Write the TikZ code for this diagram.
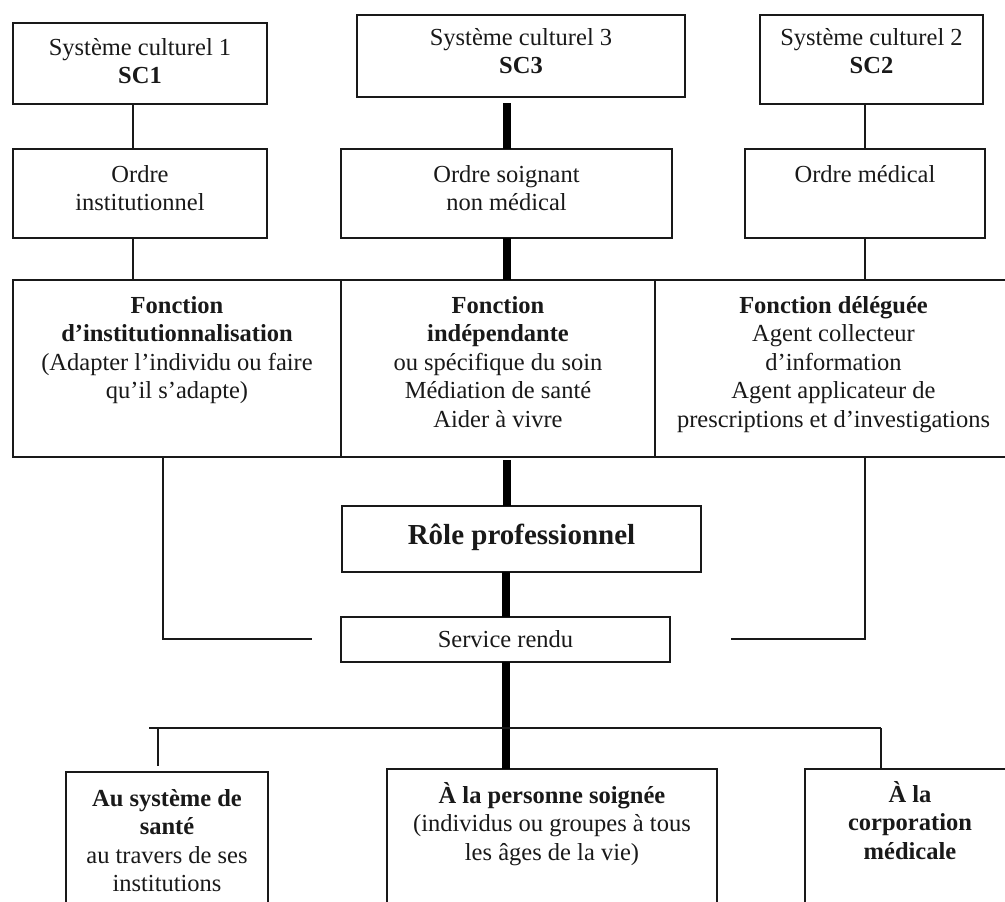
\documentclass[tikz,border=0pt]{standalone}
\usepackage{fontspec}
\setmainfont{Liberation Serif}
\newcommand\fst{\rule{0pt}{24pt}}
\begin{document}
\begin{tikzpicture}[x=1pt,y=-1pt,
  box/.style={draw=black!90, line width=1.8pt, inner sep=0pt, outer sep=0pt},
  txt/.style={anchor=north, inner sep=0pt, align=center, text=black!90,
    font=\fontsize{24.5}{28.5}\selectfont},
  thin/.style={draw=black!90, line width=1.8pt},
  thickc/.style={draw=black, line width=8pt}]
\useasboundingbox (0,0) rectangle (1005,902);
\clip (0,0) rectangle (1005,902);
% boxes
\node[box, minimum width=254pt, minimum height=81pt] (sc1) at (140,63.5) {};
\node[box, minimum width=328pt, minimum height=82pt] (sc3) at (521,56) {};
\node[box, minimum width=223pt, minimum height=89pt] (sc2) at (871.5,59.5) {};
\node[box, minimum width=254pt, minimum height=89pt] (oi) at (140,193.5) {};
\node[box, minimum width=331pt, minimum height=89pt] (osn) at (506.5,193.5) {};
\node[box, minimum width=240pt, minimum height=89pt] (om) at (865,193.5) {};
\node[box, minimum width=328pt, minimum height=177pt] (fi) at (177,368.5) {};
\node[box, minimum width=314pt, minimum height=177pt] (find) at (498,368.5) {};
\node[box, minimum width=357pt, minimum height=177pt] (fd) at (833.5,368.5) {};
\node[box, minimum width=359pt, minimum height=66pt] (role) at (521.5,539) {};
\node[box, minimum width=329pt, minimum height=45pt] (serv) at (505.5,639.5) {};
\node[box, minimum width=202pt, minimum height=158pt] (bs) at (167,851) {};
\node[box, minimum width=330pt, minimum height=161pt] (bp) at (552,849.5) {};
\node[box, minimum width=210pt, minimum height=161pt] (bc) at (910,849.5) {};
% texts
\node[txt] (sc1t) at ([yshift=-8pt]sc1.north) {\fst Système culturel 1\\\textbf{SC1}};
\node[txt] (sc3t) at ([yshift=-6pt]sc3.north) {\fst Système culturel 3\\\textbf{SC3}};
\node[txt] (sc2t) at ([yshift=-6pt]sc2.north) {\fst Système culturel 2\\\textbf{SC2}};
\node[txt] (oit) at ([yshift=-9pt]oi.north) {\fst Ordre\\institutionnel};
\node[txt] (osnt) at ([yshift=-9pt]osn.north) {\fst Ordre soignant\\non médical};
\node[txt] (omt) at ([yshift=-9pt]om.north) {\fst Ordre médical};
\node[txt] (fit) at ([yshift=-9pt]fi.north) {\fst\textbf{Fonction}\\\textbf{d’institutionnalisation}\\(Adapter l’individu ou faire\\qu’il s’adapte)};
\node[txt] (findt) at ([yshift=-9pt]find.north) {\fst\textbf{Fonction}\\\textbf{indépendante}\\ou spécifique du soin\\Médiation de santé\\Aider à vivre};
\node[txt] (fdt) at ([yshift=-9pt]fd.north) {\fst\textbf{Fonction déléguée}\\Agent collecteur\\d’information\\Agent applicateur de\\prescriptions et d’investigations};
\node[inner sep=0pt, text=black!90, font=\fontsize{29}{34}\bfseries] (rolet) at ([yshift=2pt]role.center) {Rôle professionnel};
\node[inner sep=0pt, text=black!90, font=\fontsize{24.5}{28.5}\selectfont] (servt) at (serv.center) {Service rendu};
\node[txt] (bst) at ([yshift=-10pt]bs.north) {\fst\textbf{Au système de}\\\textbf{santé}\\au travers de ses\\institutions};
\node[txt] (bpt) at ([yshift=-10pt]bp.north) {\fst\textbf{À la personne soignée}\\(individus ou groupes à tous\\les âges de la vie)};
\node[txt] (bct) at ([yshift=-9pt]bc.north) {\fst\textbf{À la}\\\textbf{corporation}\\\textbf{médicale}};
% connectors, left column
\draw[thin] ([xshift=-7pt]sc1.south) -- ([xshift=-7pt]oi.north);
\draw[thin] ([xshift=-7pt]oi.south) -- ([xshift=-7pt]oi.south |- fi.north);
% right column
\draw[thin] (sc2.south -| om.north) -- (om.north);
\draw[thin] (om.south) -- (om.south |- fd.north);
% thick spine
\draw[thickc] ([yshift=-6pt]sc3.south -| osn.north) -- (osn.north);
\draw[thickc] (osn.south) -- (osn.south |- find.north);
\draw[thickc] ([yshift=-3pt]find.south -| osn.south) -- (role.north -| osn.south);
\draw[thickc] (role.south -| serv.north) -- (serv.north);
\draw[thickc] (serv.south) -- (serv.south |- bp.north);
% side returns towards Service rendu
\coordinate (lcorner) at (163,639);
\coordinate (lend) at (312,639);
\coordinate (rcorner) at (865,639);
\coordinate (rend) at (731,639);
\draw[thin] (fi.south -| lcorner) -- (lcorner) -- (lend);
\draw[thin] (fd.south -| rcorner) -- (rcorner) -- (rend);
% bottom tree
\coordinate (bl) at (149,728);
\coordinate (br) at (881,728);
\draw[thin] (bl) -- (br);
\draw[thin] ([xshift=-9pt]bs.north |- bl) -- ([xshift=-9pt,yshift=6pt]bs.north);
\draw[thin] (br) -- (br |- bc.north);
\end{tikzpicture}
\end{document}
